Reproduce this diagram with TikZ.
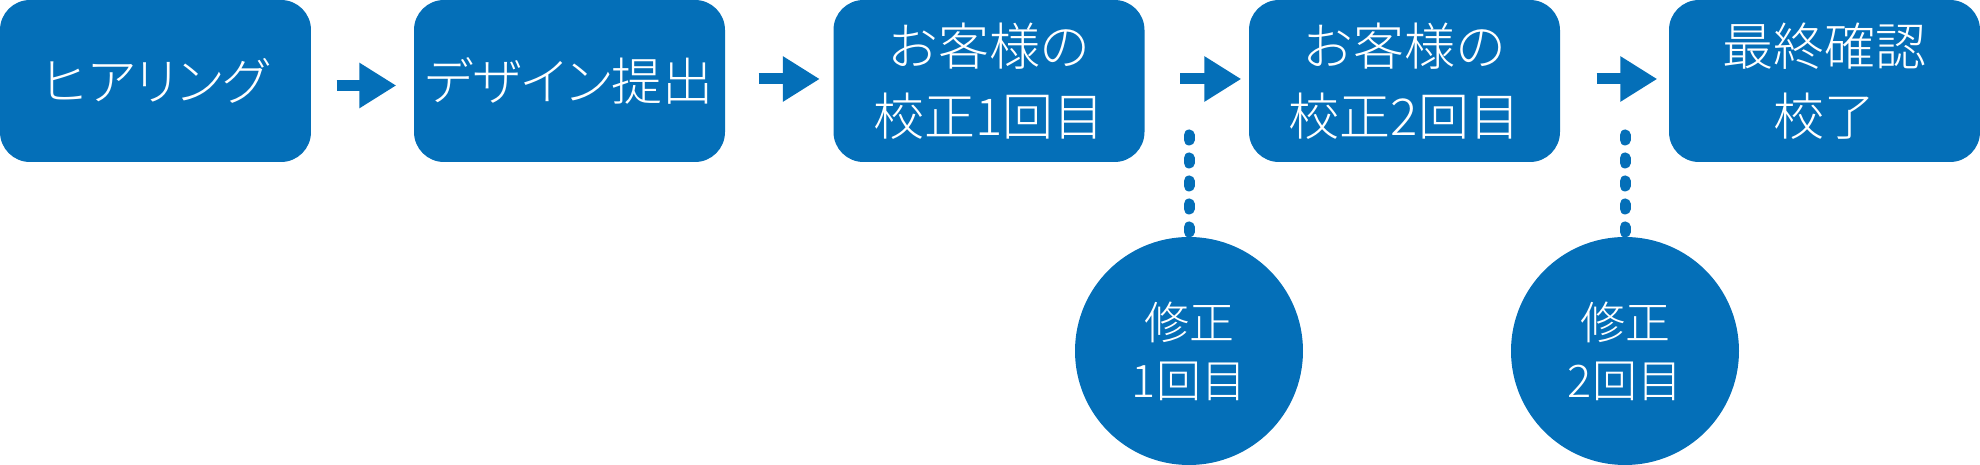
\documentclass[tikz,border=0pt]{standalone}
\usepackage{fontspec}
\setmainfont{Noto Sans CJK JP}[UprightFont=* Light]
\newfontfamily\kanafont{Noto Sans CJK JP}[UprightFont=* Light, RawFeature=+palt]
\usetikzlibrary{arrows.meta}
\definecolor{flowblue}{RGB}{4,111,184}

\tikzset{
  stepbox/.style={rectangle, rounded corners=3mm, fill=flowblue, text=white,
    minimum width=31.1mm, minimum height=16.2mm, inner sep=0pt, align=center,
    font=\fontsize{14.5pt}{19.8pt}\selectfont},
  fixcircle/.style={circle, fill=flowblue, text=white, minimum size=22.8mm,
    inner sep=0pt, align=center, font=\fontsize{12.8pt}{16.5pt}\selectfont},
  nextarrow/.style={flowblue, line width=1.1mm,
    -{Triangle[length=3.7mm,width=4.3mm]}},
  fixline/.style={flowblue, line width=1.1mm, line cap=round,
    dash pattern=on 0.5mm off 1.8mm}
}

\begin{document}
\begin{tikzpicture}[x=0.1mm, y=-0.1mm]
\useasboundingbox (0,0) rectangle (1980,465);

\node[stepbox] (hearing) at (155.5,81) {\kanafont ヒアリング};
\node[stepbox] (design) at (569.5,81) {\kanafont デザイン提出};
\node[stepbox] (check1) at (989,81) {お客様の\\校正1回目};
\node[stepbox] (check2) at (1404.5,81) {お客様の\\校正2回目};
\node[stepbox] (final) at (1824.5,81) {最終確認\\校了};

\draw[nextarrow, shorten <=2.5mm, shorten >=1.7mm]
  ([yshift=-0.45mm]hearing.east) -- ([yshift=-0.45mm]design.west);
\draw[nextarrow, shorten <=3.3mm, shorten >=1.3mm]
  ([yshift=0.2mm]design.east) -- ([yshift=0.2mm]check1.west);
\draw[nextarrow, shorten <=3.5mm, shorten >=0.7mm]
  ([yshift=0.2mm]check1.east) -- ([yshift=0.2mm]check2.west);
\draw[nextarrow, shorten <=3.6mm, shorten >=1.1mm]
  ([yshift=0.2mm]check2.east) -- ([yshift=0.2mm]final.west);

\node[fixcircle] (fix1) at (1189,351) {修正\\1回目};
\node[fixcircle] (fix2) at (1625,351) {修正\\2回目};

\coordinate (dot1) at (1189,135);
\coordinate (dot2) at (1625,135);
\draw[fixline] (dot1) -- (fix1);
\draw[fixline] (dot2) -- (fix2);

\end{tikzpicture}
\end{document}
